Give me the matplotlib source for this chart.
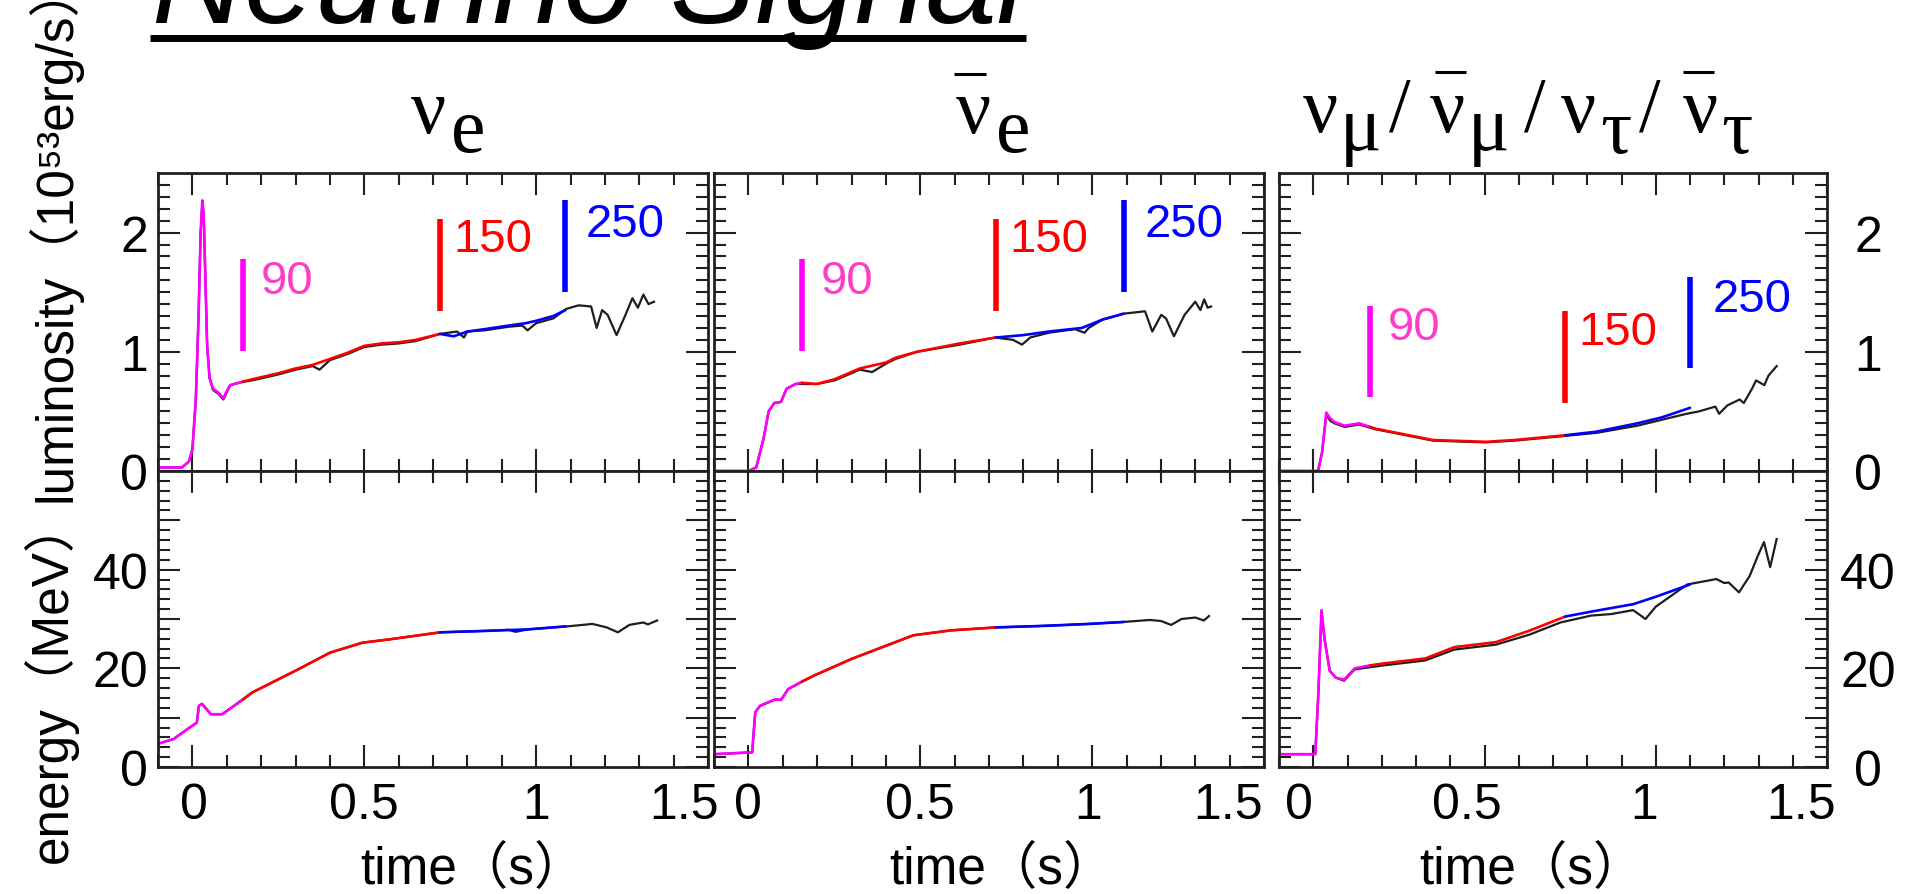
import numpy as np
import matplotlib
matplotlib.use("Agg")
import matplotlib.pyplot as plt
from matplotlib import font_manager
from matplotlib.lines import Line2D
from matplotlib.transforms import ScaledTranslation

# ---------------- data ----------------
XTICKS = [0, 0.5, 1, 1.5]
XTICKLABELS = ["0", "0.5", "1", "1.5"]
LUM_TICKS = [0, 1, 2]
LUM_TICKLABELS = ["0", "1", "2"]
ENE_TICKS = [0, 10, 20, 30, 40, 50]
ENE_TICKLABELS = ["0", "", "20", "", "40", ""]

MODEL_NAMES = ["90", "150", "250"]
MODEL_COLORS = ["#ff00ff", "#ff0000", "#0000ff"]
NAME_COLORS = ["#ff3cc8", "#ff0000", "#0000ff"]

# nu_e
t_lum_ref_e = [-0.1, -0.03, -0.01, 0.0, 0.01, 0.018, 0.024, 0.029, 0.033, 0.038, 0.043, 0.05, 0.06,
               0.075, 0.09, 0.1, 0.11, 0.135, 0.19, 0.25, 0.30, 0.35, 0.37, 0.40, 0.45, 0.50, 0.55,
               0.60, 0.65, 0.72, 0.77, 0.79, 0.80, 0.85, 0.92, 0.96, 0.975, 1.0, 1.05, 1.088, 1.124,
               1.16, 1.176, 1.192, 1.208, 1.234, 1.26, 1.28, 1.296, 1.312, 1.327, 1.343]
lum_ref_e = [0.03, 0.03, 0.08, 0.18, 0.6, 1.3, 2.0, 2.25, 2.15, 1.6, 1.05, 0.78, 0.68,
             0.65, 0.6, 0.66, 0.72, 0.74, 0.77, 0.81, 0.85, 0.88, 0.85, 0.93, 0.98, 1.04, 1.06,
             1.07, 1.09, 1.15, 1.17, 1.12, 1.17, 1.18, 1.21, 1.22, 1.18, 1.24, 1.28, 1.36, 1.39,
             1.38, 1.2, 1.35, 1.31, 1.14, 1.31, 1.45, 1.37, 1.48, 1.40, 1.42]
t_lum_mod_e = [-0.1, -0.03, -0.01, 0.0, 0.01, 0.018, 0.024, 0.029, 0.033, 0.038, 0.043, 0.05, 0.06,
               0.075, 0.09, 0.1, 0.11, 0.135, 0.146, 0.19, 0.25, 0.30, 0.35, 0.40, 0.45, 0.50, 0.55,
               0.60, 0.65, 0.72, 0.76, 0.80, 0.85, 0.92, 0.97, 1.0, 1.05, 1.085]
lum_mod_e = [0.03, 0.03, 0.08, 0.18, 0.6, 1.3, 2.0, 2.27, 2.15, 1.6, 1.05, 0.78, 0.69,
             0.66, 0.61, 0.67, 0.72, 0.74, 0.75, 0.78, 0.82, 0.86, 0.89, 0.94, 0.99, 1.05, 1.07,
             1.08, 1.10, 1.15, 1.13, 1.17, 1.19, 1.22, 1.24, 1.26, 1.30, 1.35]
t_ene_ref_e = [-0.1, -0.054, -0.014, 0.013, 0.019, 0.028, 0.054, 0.087, 0.174, 0.308, 0.401, 0.495,
               0.576, 0.723, 0.857, 0.92, 0.94, 0.977, 1.09, 1.164, 1.205, 1.238, 1.271, 1.312,
               1.325, 1.352]
ene_ref_e = [4.7, 5.7, 7.7, 9.0, 12.4, 12.8, 10.7, 10.7, 15.1, 19.8, 23.2, 25.2,
             25.9, 27.3, 27.6, 27.8, 27.4, 27.9, 28.5, 29.0, 28.3, 27.3, 28.8, 29.3,
             28.9, 29.7]
t_ene_mod_e = [-0.1, -0.054, -0.014, 0.013, 0.019, 0.028, 0.054, 0.087, 0.146, 0.174, 0.308, 0.401,
               0.495, 0.576, 0.72, 0.857, 0.977, 1.085]
ene_mod_e = [4.7, 5.7, 7.7, 9.0, 12.4, 12.8, 10.7, 10.7, 13.6, 15.1, 19.8, 23.2,
             25.2, 25.9, 27.3, 27.6, 27.9, 28.5]
bar_t_e = [0.146, 0.72, 1.085]
bar_y_e = [(1.01, 1.775), (1.345, 2.11), (1.50, 2.27)]
name_pos_e = [(0.198, 1.59), (0.76, 1.95), (1.145, 2.07)]

# anti nu_e
t_lum_ref_a = [-0.1, 0.0, 0.023, 0.044, 0.059, 0.075, 0.095, 0.111, 0.137, 0.199, 0.251, 0.324, 0.36,
               0.40, 0.428, 0.49, 0.615, 0.718, 0.77, 0.796, 0.82, 0.874, 0.95, 0.978, 0.99, 1.03,
               1.092, 1.154, 1.175, 1.201, 1.215, 1.238, 1.269, 1.30, 1.315, 1.326, 1.336, 1.346]
lum_ref_a = [0.0, 0.0, 0.03, 0.27, 0.50, 0.57, 0.58, 0.69, 0.73, 0.73, 0.76, 0.85, 0.83,
             0.90, 0.94, 1.0, 1.06, 1.12, 1.10, 1.06, 1.12, 1.16, 1.19, 1.16, 1.2, 1.27,
             1.32, 1.34, 1.17, 1.31, 1.28, 1.13, 1.31, 1.42, 1.35, 1.44, 1.37, 1.38]
t_lum_mod_a = [-0.1, 0.0, 0.023, 0.044, 0.059, 0.075, 0.095, 0.111, 0.137, 0.155, 0.199, 0.251,
               0.324, 0.40, 0.428, 0.49, 0.615, 0.72, 0.80, 0.874, 0.97, 1.03, 1.092]
lum_mod_a = [0.0, 0.0, 0.03, 0.27, 0.50, 0.57, 0.58, 0.69, 0.73, 0.74, 0.73, 0.77,
             0.86, 0.91, 0.95, 1.0, 1.07, 1.12, 1.14, 1.17, 1.2, 1.27, 1.32]
t_ene_ref_a = [-0.1, 0.011, 0.02, 0.034, 0.078, 0.095, 0.116, 0.19, 0.3, 0.39, 0.48, 0.59, 0.723,
               0.857, 0.99, 1.09, 1.168, 1.2, 1.23, 1.26, 1.3, 1.325, 1.34]
ene_ref_a = [2.6, 2.97, 11.1, 12.4, 13.7, 13.6, 15.8, 18.5, 21.9, 24.3, 26.7, 27.7, 28.3,
             28.6, 29.0, 29.4, 29.8, 29.6, 28.8, 30.0, 30.3, 29.7, 30.6]
t_ene_mod_a = [-0.1, 0.011, 0.02, 0.034, 0.078, 0.095, 0.116, 0.155, 0.19, 0.3, 0.39, 0.48, 0.59,
               0.72, 0.857, 0.99, 1.092]
ene_mod_a = [2.6, 2.97, 11.1, 12.4, 13.7, 13.6, 15.8, 17.3, 18.5, 21.9, 24.3, 26.7, 27.7,
             28.3, 28.6, 29.0, 29.4]
bar_t_a = [0.155, 0.72, 1.092]
bar_y_a = [(1.01, 1.775), (1.345, 2.11), (1.50, 2.27)]
name_pos_a = [(0.21, 1.59), (0.76, 1.95), (1.154, 2.07)]

# heavy-lepton neutrinos
t_lum_ref_x = [-0.1, 0.014, 0.026, 0.038, 0.05, 0.062, 0.092, 0.134, 0.182, 0.253, 0.349, 0.504,
               0.588, 0.72, 0.827, 0.946, 1.018, 1.09, 1.126, 1.174, 1.185, 1.209, 1.245, 1.257,
               1.281, 1.293, 1.317, 1.329, 1.353]
lum_ref_x = [0.0, 0.0, 0.16, 0.47, 0.42, 0.40, 0.37, 0.39, 0.35, 0.31, 0.255, 0.24,
             0.255, 0.29, 0.32, 0.38, 0.43, 0.48, 0.50, 0.54, 0.48, 0.55, 0.60, 0.57,
             0.69, 0.76, 0.72, 0.80, 0.88]
t_lum_mod_x = [-0.1, 0.014, 0.026, 0.038, 0.05, 0.062, 0.092, 0.134, 0.166, 0.182, 0.253, 0.349,
               0.504, 0.588, 0.736, 0.827, 0.946, 1.018, 1.10]
lum_mod_x = [0.0, 0.0, 0.16, 0.49, 0.44, 0.41, 0.38, 0.40, 0.37, 0.355, 0.315, 0.26,
             0.245, 0.26, 0.30, 0.33, 0.40, 0.45, 0.53]
t_ene_ref_x = [-0.104, 0.006, 0.015, 0.024, 0.033, 0.048, 0.066, 0.09, 0.121, 0.206, 0.327, 0.412,
               0.533, 0.63, 0.722, 0.812, 0.87, 0.934, 0.97, 1.0, 1.092, 1.177, 1.2, 1.213, 1.243,
               1.274, 1.298, 1.316, 1.334, 1.353]
ene_ref_x = [2.6, 2.6, 15.1, 31.3, 25.9, 19.5, 18.1, 17.5, 19.8, 20.6, 21.6, 23.8,
             24.8, 26.8, 29.3, 30.7, 31.0, 31.8, 30.0, 32.5, 37.0, 38.1, 37.3, 37.4, 35.4,
             38.7, 42.8, 45.6, 40.5, 46.2]
t_ene_mod_x = [-0.104, 0.006, 0.015, 0.024, 0.033, 0.048, 0.066, 0.09, 0.121, 0.166, 0.206, 0.327,
               0.412, 0.533, 0.63, 0.736, 0.812, 0.934, 1.0, 1.10]
ene_mod_x = [2.6, 2.6, 15.1, 31.8, 26.0, 19.5, 18.1, 17.7, 20.0, 20.6, 21.0, 22.0,
             24.3, 25.3, 27.6, 30.5, 31.5, 33.0, 34.5, 37.0]
bar_t_x = [0.166, 0.736, 1.10]
bar_y_x = [(0.62, 1.387), (0.57, 1.339), (0.86, 1.63)]
name_pos_x = [(0.217, 1.21), (0.773, 1.17), (1.167, 1.44)]

columns = [
    dict(lum_ref=(t_lum_ref_e, lum_ref_e), lum_mod=(t_lum_mod_e, lum_mod_e),
         ene_ref=(t_ene_ref_e, ene_ref_e), ene_mod=(t_ene_mod_e, ene_mod_e),
         bar_t=bar_t_e, bar_y=bar_y_e, name_pos=name_pos_e),
    dict(lum_ref=(t_lum_ref_a, lum_ref_a), lum_mod=(t_lum_mod_a, lum_mod_a),
         ene_ref=(t_ene_ref_a, ene_ref_a), ene_mod=(t_ene_mod_a, ene_mod_a),
         bar_t=bar_t_a, bar_y=bar_y_a, name_pos=name_pos_a),
    dict(lum_ref=(t_lum_ref_x, lum_ref_x), lum_mod=(t_lum_mod_x, lum_mod_x),
         ene_ref=(t_ene_ref_x, ene_ref_x), ene_mod=(t_ene_mod_x, ene_mod_x),
         bar_t=bar_t_x, bar_y=bar_y_x, name_pos=name_pos_x),
]

# ---------------- layout ----------------
W, H = 1909, 895
def fx(px):
    return px / W
def fy(py):
    return 1 - py / H

plt.rcParams["font.family"] = ["Liberation Sans", "DejaVu Sans"]
names = {f.name for f in font_manager.fontManager.ttflist}
if "Liberation Sans Narrow" in names:
    LABEL_FAMILY, LABEL_SIZE = "Liberation Sans Narrow", 42
else:
    LABEL_FAMILY, LABEL_SIZE = "Liberation Sans", 37
CJK = "Noto Sans CJK JP"

fig = plt.figure(figsize=(W / 100, H / 100), dpi=100)

COL_X = [(158, 708), (714, 1264), (1279, 1827)]
ROW_Y = [(174, 472), (472, 768)]
XLAB_SHIFT = [[2, 0, 0, -24], [0, 0, -4, -36], [-14, -18, -12, -26]]

def style_axis(ax):
    for s in ax.spines.values():
        s.set_linewidth(2.0)
        s.set_color("#202020")
    ax.tick_params(which="both", direction="in", top=True, right=True,
                   width=1.5, colors="#202020", labelsize=36, labelcolor="black")
    ax.tick_params(which="major", length=16)
    ax.tick_params(which="minor", length=8.5)
    ax.tick_params(axis="x", pad=11)
    ax.set_xlim(-0.1, 1.5)
    ax.set_xticks(XTICKS)
    ax.set_xticks(np.arange(-0.1, 1.5, 0.1), minor=True)

def draw_model(ax, t, y, splits):
    t = np.asarray(t)
    y = np.asarray(y)
    edges = [t[0]] + list(splits)
    for i, c in enumerate(MODEL_COLORS):
        m = (t >= edges[i] - 1e-9) & (t <= edges[i + 1] + 1e-9)
        ax.plot(t[m], y[m], color=c, lw=1.9, solid_capstyle="round")

for j, col in enumerate(columns):
    x0, x1 = COL_X[j]
    # luminosity
    y0, y1 = ROW_Y[0]
    ax = fig.add_axes([fx(x0), fy(y1), (x1 - x0) / W, (y1 - y0) / H])
    style_axis(ax)
    ax.set_ylim(0, 2.5)
    ax.set_yticks(LUM_TICKS)
    ax.set_yticklabels(LUM_TICKLABELS)
    ax.set_yticks(np.arange(0, 2.5, 0.1), minor=True)
    ax.tick_params(axis="x", labelbottom=False)
    ax.plot(*col["lum_ref"], color="#1e1e1e", lw=1.6)
    draw_model(ax, *col["lum_mod"], col["bar_t"])
    for k in range(3):
        ax.plot([col["bar_t"][k]] * 2, col["bar_y"][k], color=MODEL_COLORS[k],
                lw=4, solid_capstyle="butt")
        ax.text(col["name_pos"][k][0], col["name_pos"][k][1], MODEL_NAMES[k],
                color=NAME_COLORS[k], fontsize=34, ha="left", va="center")
    if j == 0:
        ax.tick_params(axis="y", pad=7)
    elif j == 2:
        ax.tick_params(axis="y", labelleft=False, labelright=True, pad=29.5)
        for lab in ax.get_yticklabels():
            lab.set_ha("center")
    else:
        ax.tick_params(axis="y", labelleft=False)

    # energy
    y0, y1 = ROW_Y[1]
    ax = fig.add_axes([fx(x0), fy(y1), (x1 - x0) / W, (y1 - y0) / H])
    style_axis(ax)
    ax.set_ylim(0, 60)
    ax.set_yticks(ENE_TICKS)
    ax.set_yticklabels(ENE_TICKLABELS)
    ax.set_yticks(np.arange(0, 60, 2), minor=True)
    ax.set_xticklabels(XTICKLABELS)
    ax.plot(*col["ene_ref"], color="#1e1e1e", lw=1.6)
    draw_model(ax, *col["ene_mod"], col["bar_t"])
    if j == 0:
        ax.tick_params(axis="y", pad=7)
    elif j == 2:
        ax.tick_params(axis="y", labelleft=False, labelright=True, pad=29.5)
        for lab in ax.get_yticklabels():
            lab.set_ha("center")
    else:
        ax.tick_params(axis="y", labelleft=False)
    for lab, dx in zip(ax.get_xticklabels(), XLAB_SHIFT[j]):
        lab.set_transform(lab.get_transform() + ScaledTranslation(dx / 100, 0, fig.dpi_scale_trans))

    fig.text(fx([360, 889, 1419][j]), fy(884), "time（s）", fontsize=37,
             family=["Liberation Sans", CJK], ha="left", va="baseline")

# axis titles on the left
fig.text(fx(54), fy(502), "luminosity（10⁵³erg/s）", rotation=90, ha="center", va="bottom",
         fontsize=LABEL_SIZE, family=[LABEL_FAMILY, "DejaVu Sans", CJK])
fig.text(fx(50), fy(863), "energy（MeV）", rotation=90, ha="center", va="bottom",
         fontsize=LABEL_SIZE, family=[LABEL_FAMILY, CJK])

# big title, cut at the top like the slide
fig.text(fx(152), fy(23), "Neutrino Signal", fontsize=92, style="italic",
         family="Liberation Sans", ha="left", va="baseline")
fig.add_artist(Line2D([fx(150), fx(1026)], [fy(38.5)] * 2, lw=5.0, color="black",
                      solid_capstyle="butt", transform=fig.transFigure))

# column headers (serif Greek, flavour letter at full size, lowered)
SERIF = "Liberation Serif"
header_parts = [
    ("ν", 411, 133), ("e", 451, 152),
    ("ν", 956, 133), ("e", 996, 152),
    ("ν", 1303, 132), ("μ", 1340, 150), ("/", 1389, 130),
    ("ν", 1430, 132), ("μ", 1468, 150), ("/", 1524, 130),
    ("ν", 1561, 132), ("τ", 1600, 153), ("/", 1639, 130),
    ("ν", 1683, 132), ("τ", 1721, 153),
]
for s, px, py in header_parts:
    fig.text(fx(px), fy(py), s, fontsize=56, family=SERIF, ha="left", va="baseline")
for bx0, bx1, by in [(954, 986, 75), (1435, 1466, 73), (1683, 1714, 73)]:
    fig.add_artist(Line2D([fx(bx0), fx(bx1)], [fy(by)] * 2, lw=2.2, color="black",
                          solid_capstyle="butt", transform=fig.transFigure))

fig.savefig("out.png", dpi=100)
